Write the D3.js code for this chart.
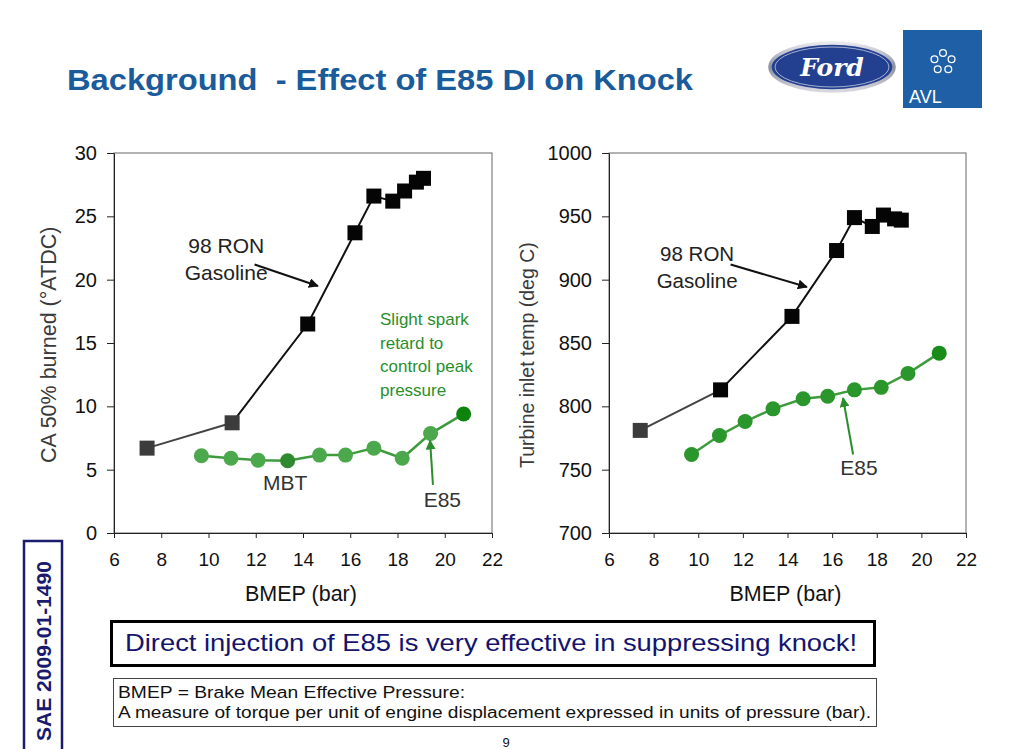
<!DOCTYPE html>
<html>
<head>
<meta charset="utf-8">
<script src="https://cdn.jsdelivr.net/npm/d3@7"></script>
<style>
  body { margin: 0; background: #fff; }
  svg { display: block; font-family: "Liberation Sans", Arial, sans-serif; }
</style>
</head>
<body>
<div class="slide"></div>
<script>
// BMEP (bar) for each measured point
const gasBmep = [7.4, 11.0, 14.2, 16.2, 17.0, 17.8, 18.3, 18.8, 19.1];
const e85Bmep = [9.7, 10.95, 12.1, 13.35, 14.7, 15.8, 17.0, 18.2, 19.4, 20.8];

// CA 50% burned (deg ATDC)
const gasCa50 = [6.7, 8.7, 16.5, 23.7, 26.6, 26.2, 27.0, 27.7, 28.0];
const e85Ca50 = [6.1, 5.9, 5.75, 5.7, 6.15, 6.15, 6.7, 5.9, 7.85, 9.4];

// Turbine inlet temp (deg C)
const gasTemp = [781, 813, 871, 923, 949, 942, 951, 948, 947];
const e85Temp = [762, 777, 788, 798, 806, 808, 813, 815, 826, 842];

const xTicks = [6, 8, 10, 12, 14, 16, 18, 20, 22];
const caTicks = [0, 5, 10, 15, 20, 25, 30];
const tempTicks = [700, 750, 800, 850, 900, 950, 1000];

const W = 1024, H = 749;
const svg = d3.select(".slide").append("svg")
    .attr("width", W)
    .attr("height", H);

const defs = svg.append("defs");
function arrowMarker(id, color) {
    defs.append("marker")
        .attr("id", id)
        .attr("viewBox", "0 0 10 10")
        .attr("refX", 9).attr("refY", 5)
        .attr("markerWidth", 5).attr("markerHeight", 5)
        .attr("orient", "auto")
        .append("path")
        .attr("d", "M0,0 L10,5 L0,10 Z")
        .attr("fill", color);
}
arrowMarker("arBlack", "#111");
arrowMarker("arGreen", "#2a8f2a");

const rim = defs.append("linearGradient").attr("id", "rim")
    .attr("x1", 0).attr("y1", 0).attr("x2", 0).attr("y2", 1);
rim.append("stop").attr("offset", "0%").attr("stop-color", "#e8e8ee");
rim.append("stop").attr("offset", "50%").attr("stop-color", "#8a8ea0");
rim.append("stop").attr("offset", "100%").attr("stop-color", "#d8d8e0");

// title
svg.append("text")
    .attr("x", 67).attr("y", 90)
    .attr("font-size", 29)
    .attr("font-weight", "bold")
    .attr("fill", "#1a5b9c")
    .attr("textLength", 626)
    .attr("lengthAdjust", "spacingAndGlyphs")
    .style("white-space", "pre")
    .text("Background  - Effect of E85 DI on Knock");

// logos
const ford = svg.append("g");
ford.append("ellipse")
    .attr("cx", 832).attr("cy", 67).attr("rx", 62).attr("ry", 24)
    .attr("fill", "#233f8f")
    .attr("stroke", "url(#rim)")
    .attr("stroke-width", 3.5);
ford.append("ellipse")
    .attr("cx", 832).attr("cy", 67).attr("rx", 57).attr("ry", 20)
    .attr("fill", "none")
    .attr("stroke", "#c8cbe0")
    .attr("stroke-width", 0.8);
ford.append("text")
    .attr("x", 832).attr("y", 76)
    .attr("text-anchor", "middle")
    .attr("font-family", "'DejaVu Serif', 'Liberation Serif', serif")
    .attr("font-style", "italic")
    .attr("font-weight", "bold")
    .attr("font-size", 25)
    .attr("fill", "#fff")
    .text("Ford");

const avl = svg.append("g");
avl.append("rect")
    .attr("x", 903).attr("y", 30).attr("width", 79).attr("height", 78)
    .attr("fill", "#1f5fa6");
d3.range(5).forEach(i => {
    const a = i * 2 * Math.PI / 5 - Math.PI / 2;
    avl.append("circle")
        .attr("cx", 943 + 9 * Math.cos(a)).attr("cy", 62 + 9 * Math.sin(a))
        .attr("r", 3.4)
        .attr("fill", "none")
        .attr("stroke", "#fff")
        .attr("stroke-width", 1.3);
});
avl.append("text")
    .attr("x", 909).attr("y", 103)
    .attr("font-size", 18)
    .attr("fill", "#fff")
    .text("AVL");

// shared chart drawing
function drawChart(opt) {
    const x = d3.scaleLinear().domain([6, 22]).range([opt.left, opt.right]);
    const y = d3.scaleLinear().domain(opt.yDomain).range([533, 153]);
    const g = svg.append("g");

    g.append("rect")
        .attr("x", opt.left).attr("y", 153)
        .attr("width", opt.right - opt.left).attr("height", 380)
        .attr("fill", "none")
        .attr("stroke", "#666")
        .attr("stroke-width", 1);

    const xAxis = g.append("g")
        .attr("transform", "translate(0,533)")
        .call(d3.axisBottom(x).tickValues(xTicks).tickSize(5).tickSizeOuter(0).tickPadding(15));
    xAxis.selectAll("text").attr("font-size", 19).attr("fill", "#111")
        .attr("font-family", "'Liberation Sans', Arial, sans-serif");

    const yAxis = g.append("g")
        .attr("transform", "translate(" + opt.left + ",0)")
        .call(d3.axisLeft(y).tickValues(opt.yTicks).tickFormat(d3.format("d"))
            .tickSize(7).tickSizeOuter(0).tickPadding(10));
    yAxis.selectAll("text").attr("font-size", 20).attr("fill", "#111")
        .attr("font-family", "'Liberation Sans', Arial, sans-serif");
    g.selectAll(".domain, .tick line").attr("stroke", "#222");

    g.append("text")
        .attr("x", (opt.left + opt.right) / 2 - 2).attr("y", 601)
        .attr("text-anchor", "middle")
        .attr("font-size", 21.5)
        .attr("fill", "#111")
        .text("BMEP (bar)");

    g.append("text")
        .attr("transform", "translate(" + opt.yLabelX + "," + opt.yLabelY + ") rotate(-90)")
        .attr("font-size", opt.yLabelSize)
        .attr("fill", "#3a3a3a")
        .text(opt.yLabel);

    // gasoline series
    const gas = gasBmep.map((b, i) => ({ b: b, v: opt.gas[i] }));
    const e85 = e85Bmep.map((b, i) => ({ b: b, v: opt.e85[i] }));

    g.append("path")
        .datum(gas.slice(0, 2))
        .attr("fill", "none")
        .attr("stroke", "#444")
        .attr("stroke-width", 2)
        .attr("d", d3.line().x(d => x(d.b)).y(d => y(d.v)));
    g.append("path")
        .datum(gas.slice(1))
        .attr("fill", "none")
        .attr("stroke", "#111")
        .attr("stroke-width", 2)
        .attr("d", d3.line().x(d => x(d.b)).y(d => y(d.v)));

    g.append("g").selectAll("rect")
        .data(gas)
        .enter()
        .append("rect")
        .attr("x", d => x(d.b) - 7.5)
        .attr("y", d => y(d.v) - 7.5)
        .attr("width", 15).attr("height", 15)
        .attr("fill", (d, i) => i < opt.grayMarks ? "#3c3c3c" : "#050505");

    // E85 series
    g.append("path")
        .datum(e85)
        .attr("fill", "none")
        .attr("stroke", "#3e9c3e")
        .attr("stroke-width", 2.5)
        .attr("d", d3.line().x(d => x(d.b)).y(d => y(d.v)));

    g.append("g").selectAll("circle")
        .data(e85)
        .enter()
        .append("circle")
        .attr("cx", d => x(d.b))
        .attr("cy", d => y(d.v))
        .attr("r", 7.5)
        .attr("fill", (d, i) => opt.e85Fill(i));

    // annotations (anchored in data units)
    opt.texts.forEach(t => {
        const txt = g.append("text")
            .attr("x", x(t.b)).attr("y", y(t.v))
            .attr("text-anchor", t.anchor || "middle")
            .attr("font-size", t.size)
            .attr("fill", t.color);
        t.lines.forEach((line, k) => {
            txt.append("tspan")
                .attr("x", x(t.b))
                .attr("dy", k === 0 ? 0 : t.lh)
                .text(line);
        });
    });
    opt.arrows.forEach(a => {
        g.append("line")
            .attr("x1", x(a.b1)).attr("y1", y(a.v1))
            .attr("x2", x(a.b2)).attr("y2", y(a.v2))
            .attr("stroke", a.color)
            .attr("stroke-width", 2)
            .attr("marker-end", "url(#" + a.marker + ")");
    });
}

drawChart({
    left: 114, right: 492,
    yDomain: [0, 30], yTicks: caTicks,
    yLabel: "CA 50% burned (\u00B0ATDC)", yLabelX: 56, yLabelY: 463, yLabelSize: 21.5,
    gas: gasCa50, e85: e85Ca50, grayMarks: 2,
    e85Fill: i => i === 9 ? "#0c830c" : (i === 3 ? "#2f8a2f" : "#4ca84c"),
    texts: [
        { b: 10.75, v: 22.1, lines: ["98 RON", "Gasoline"], lh: 27, size: 21, color: "#222" },
        { b: 17.26, v: 16.4, lines: ["Slight spark", "retard to", "control peak", "pressure"], lh: 23.5, size: 17, color: "#2a8f2a", anchor: "start" },
        { b: 13.25, v: 3.4, lines: ["MBT"], lh: 0, size: 21, color: "#333" },
        { b: 19.9, v: 2.05, lines: ["E85"], lh: 0, size: 21, color: "#333" }
    ],
    arrows: [
        { b1: 11.95, v1: 21.2, b2: 14.63, v2: 19.5, color: "#111", marker: "arBlack" },
        { b1: 19.5, v1: 3.8, b2: 19.38, v2: 7.3, color: "#2a8f2a", marker: "arGreen" }
    ]
});

drawChart({
    left: 609, right: 966,
    yDomain: [700, 1000], yTicks: tempTicks,
    yLabel: "Turbine inlet temp (deg C)", yLabelX: 534, yLabelY: 468, yLabelSize: 19.5,
    gas: gasTemp, e85: e85Temp, grayMarks: 1,
    e85Fill: i => i === 9 ? "#1a8c1a" : "#2b962b",
    texts: [
        { b: 9.95, v: 914.5, lines: ["98 RON", "Gasoline"], lh: 27, size: 20.5, color: "#222" },
        { b: 17.2, v: 746, lines: ["E85"], lh: 0, size: 21, color: "#333" }
    ],
    arrows: [
        { b1: 11.45, v1: 912, b2: 14.87, v2: 894.2, color: "#111", marker: "arBlack" },
        { b1: 16.94, v1: 762, b2: 16.49, v2: 806.6, color: "#2a8f2a", marker: "arGreen" }
    ]
});

// message boxes
svg.append("rect")
    .attr("x", 111.5).attr("y", 621.5).attr("width", 763).attr("height", 44)
    .attr("fill", "#fff").attr("stroke", "#000").attr("stroke-width", 3);
svg.append("text")
    .attr("x", 125).attr("y", 651)
    .attr("font-size", 24)
    .attr("fill", "#14146e")
    .attr("textLength", 732)
    .attr("lengthAdjust", "spacingAndGlyphs")
    .text("Direct injection of E85 is very effective in suppressing knock!");

svg.append("rect")
    .attr("x", 113.5).attr("y", 678.5).attr("width", 763).attr("height", 48)
    .attr("fill", "#fff").attr("stroke", "#444").attr("stroke-width", 1);
svg.append("text")
    .attr("x", 118).attr("y", 698)
    .attr("font-size", 16)
    .attr("fill", "#111")
    .attr("textLength", 347)
    .attr("lengthAdjust", "spacingAndGlyphs")
    .text("BMEP = Brake Mean Effective Pressure:");
svg.append("text")
    .attr("x", 118).attr("y", 718)
    .attr("font-size", 16)
    .attr("fill", "#111")
    .attr("textLength", 753)
    .attr("lengthAdjust", "spacingAndGlyphs")
    .text("A measure of torque per unit of engine displacement expressed in units of pressure (bar).");

svg.append("text")
    .attr("x", 506).attr("y", 747)
    .attr("text-anchor", "middle")
    .attr("font-size", 13)
    .attr("fill", "#111")
    .text("9");

// side reference label
svg.append("rect")
    .attr("x", 24).attr("y", 541).attr("width", 38).attr("height", 220)
    .attr("fill", "#fff").attr("stroke", "#1a1a6e").attr("stroke-width", 2.5);
svg.append("text")
    .attr("transform", "translate(51,651) rotate(-90)")
    .attr("text-anchor", "middle")
    .attr("font-size", 21)
    .attr("font-weight", "bold")
    .attr("fill", "#1a1a6e")
    .text("SAE 2009-01-1490");
</script>
</body>
</html>
